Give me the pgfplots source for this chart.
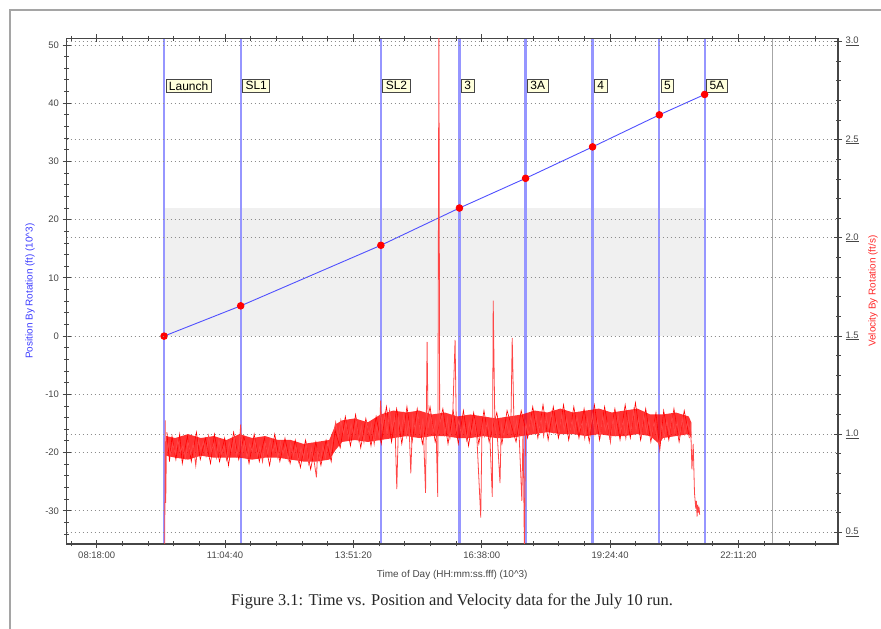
\documentclass[border=0pt]{standalone}
\usepackage{fontspec}
\setmainfont{Liberation Sans}
\newfontfamily\capfont{Liberation Serif}
\usepackage{pgfplots}
\pgfplotsset{compat=1.18}
\usepackage{pgfplotstable}

\definecolor{evblue}{RGB}{150,150,255}
\definecolor{posblue}{RGB}{80,80,255}
\definecolor{axgray}{RGB}{70,70,70}
\definecolor{gridgray}{RGB}{140,140,140}
\definecolor{shadegray}{RGB}{240,240,240}
\definecolor{boxfill}{RGB}{255,255,220}
\definecolor{framegray}{RGB}{165,165,165}
\definecolor{lblblue}{RGB}{60,60,255}
\definecolor{lblred}{RGB}{255,40,40}
\definecolor{velred}{RGB}{255,70,70}

% dense core of the velocity trace (upper edge, then lower edge back)
\pgfplotstableread{
t v
35.3 0.99
36 0.98
37 1.00
38 0.98
39 0.99
40 0.97
41 1.00
42 0.98
43 0.99
44 0.97
45 0.97
46 0.95
47 0.96
48 0.97
48.5 1.05
49 1.07
50 1.08
51 1.06
52 1.10
53 1.12
54 1.11
55 1.12
56 1.10
57 1.11
58 1.09
59 1.10
60 1.09
61 1.08
62 1.09
63 1.10
64 1.12
65 1.11
66 1.13
67 1.11
68 1.12
69 1.13
70 1.11
71 1.12
72 1.13
73 1.10
74 1.10
75 1.11
76 1.09
76.2 1.06
76.2 0.98
76 1.00
75 0.99
74 0.98
73.7 0.95
73 0.99
72 1.00
71 0.99
70 0.99
69 1.00
68 0.99
67 1.00
66 1.00
65 1.01
64 1.00
63 0.99
62 0.98
61 0.98
60 0.99
59 0.98
58 0.98
57 0.99
56 0.99
55 0.98
54 0.99
53 0.98
52 0.97
51 0.96
50 0.97
49 0.96
48.5 0.92
48 0.87
47 0.86
46 0.86
45 0.87
44 0.88
43 0.88
42 0.87
41 0.88
40 0.88
39 0.88
38 0.89
37 0.87
36 0.88
35.3 0.89
}\bandtable

% short excursions of the noise beyond the dense core
\pgfplotstableread{
t v
35.35 1.01
35.55 0.86
35.75 0.99
36.05 0.87
36.35 1.00
36.55 0.85
36.95 0.99
37.25 0.86
37.65 1.01
37.95 0.87
38.35 0.98
38.75 0.85
39.05 1.00
39.45 0.86
39.85 0.98
40.15 0.84
40.55 1.01
40.95 0.87
41.35 0.99
41.75 0.85
42.15 1.00
42.55 0.86
42.95 0.98
43.35 0.84
43.75 1.00
44.15 0.86
44.55 0.98
44.95 0.85
45.35 0.97
45.75 0.83
46.15 0.97
46.55 0.82
46.95 0.96
47.35 0.84
47.75 0.97
48.15 0.86
48.45 1.02
48.85 0.93
49.25 1.09
49.65 0.94
50.05 1.10
50.45 0.93
50.85 1.08
51.25 0.94
51.65 1.09
52.05 0.95
52.45 1.14
52.85 0.96
53.25 1.13
53.65 0.95
54.05 1.14
54.45 0.96
54.85 1.13
55.25 0.95
55.85 1.14
56.25 0.96
56.85 1.13
57.25 0.95
57.65 1.12
58.05 0.95
58.45 1.12
58.85 0.94
59.25 1.11
59.65 0.95
60.05 1.12
60.45 0.96
61.05 1.11
61.45 0.95
61.85 1.12
62.55 0.96
62.95 1.12
63.45 0.98
63.85 1.14
64.25 0.98
64.65 1.15
65.05 0.97
65.45 1.14
65.85 0.98
66.25 1.15
66.65 0.97
67.05 1.14
67.45 0.98
67.85 1.13
68.25 0.96
68.65 1.15
69.05 0.97
69.45 1.14
69.85 0.98
70.25 1.13
70.65 0.97
71.05 1.15
71.45 0.98
71.85 1.16
72.25 0.97
72.65 1.13
73.05 0.96
73.45 1.11
73.75 0.92
74.05 1.12
74.45 0.97
74.85 1.13
75.25 0.96
75.65 1.12
76.05 0.98
}\hairtable

\pgfplotstableread{
t v
35.18 0.40
35.22 1.07
35.26 0.65
35.32 0.96
35.4 0.92
35.5 0.96
35.6 0.89
35.8 0.95
36.0 0.90
36.2 0.97
36.4 0.91
36.6 0.94
36.8 0.88
37.0 0.96
37.2 0.90
37.4 0.95
37.6 0.84
37.8 0.97
38.0 0.92
38.2 0.96
38.4 0.89
38.6 0.99
38.8 0.91
39.0 0.95
39.2 0.88
39.4 0.97
39.6 0.90
39.8 0.94
40.0 0.87
40.2 0.96
40.4 0.91
40.6 0.98
40.8 0.89
41.0 0.95
41.1 1.05
41.2 0.90
41.4 0.96
41.6 0.88
41.8 0.95
42.0 0.91
42.2 0.97
42.4 0.89
42.6 0.94
42.8 0.86
43.0 0.96
43.2 0.90
43.4 0.97
43.6 0.91
43.8 0.95
44.0 0.88
44.2 0.96
44.4 0.90
44.6 0.94
44.8 0.87
45.0 0.95
45.2 0.89
45.4 0.94
45.6 0.86
45.8 0.93
46.0 0.88
46.2 0.95
46.4 0.85
46.6 0.93
46.8 0.87
47.0 0.78
47.1 0.92
47.3 0.86
47.5 0.94
47.7 0.88
47.9 0.96
48.1 0.90
48.3 0.99
48.5 1.06
48.7 0.98
48.9 1.07
49.1 1.00
49.3 1.06
49.5 0.98
49.7 1.05
49.9 0.99
50.1 1.07
50.3 0.97
50.5 1.04
50.7 0.96
50.9 1.06
51.1 1.00
51.3 1.05
51.5 0.95
51.7 1.04
51.9 0.98
52.0 1.17
52.1 1.02
52.3 1.10
52.5 1.00
52.7 1.12
52.9 1.02
53.1 1.09
53.26 0.72
53.4 1.08
53.6 1.01
53.8 1.10
54.0 0.99
54.2 1.07
54.35 0.80
54.5 1.09
54.7 1.02
54.9 1.11
55.1 1.00
55.3 1.08
55.5 0.70
55.62 1.47
55.7 1.03
55.9 1.10
56.1 1.01
56.3 1.07
56.45 0.68
56.54 3.10
56.6 1.05
56.8 1.10
57.0 1.00
57.2 1.08
57.4 0.98
57.6 1.06
57.8 1.48
57.9 1.02
58.1 1.07
58.3 0.99
58.5 1.05
58.7 0.97
58.9 1.06
59.1 1.00
59.3 1.07
59.5 0.98
59.8 0.575
59.9 1.05
60.1 0.99
60.3 1.06
60.5 1.00
60.7 0.68
60.77 1.68
60.9 1.04
61.1 0.98
61.3 0.75
61.4 1.05
61.6 0.99
61.8 1.06
62.0 1.00
62.15 1.05
62.25 1.49
62.4 1.01
62.6 1.07
62.8 0.98
63.0 0.66
63.1 1.04
63.2 0.40
63.3 1.06
63.5 1.00
63.7 1.09
63.9 1.02
64.1 1.10
64.3 1.01
64.5 1.08
64.7 0.99
64.9 1.09
65.1 1.03
65.3 1.11
65.5 1.01
65.7 1.07
65.9 1.00
66.1 1.10
66.3 1.02
66.5 1.08
66.7 0.99
66.9 1.07
67.1 1.01
67.3 1.09
67.5 1.02
67.7 1.06
67.9 0.98
68.1 1.08
68.3 1.01
68.5 1.10
68.7 1.00
68.9 1.07
69.1 0.99
69.3 1.09
69.5 1.02
69.7 1.06
69.9 0.96
70.1 1.08
70.3 1.00
70.5 1.10
70.7 1.01
70.9 1.07
71.1 0.98
71.3 1.09
71.5 1.01
71.7 1.12
71.9 1.02
72.1 1.08
72.3 0.99
72.5 1.10
72.7 1.01
72.9 1.07
73.1 0.99
73.3 1.06
73.5 1.00
73.7 0.94
73.9 1.05
74.1 0.98
74.3 1.07
74.5 1.00
74.7 1.09
74.9 1.01
75.1 1.06
75.3 0.99
75.5 1.08
75.7 1.00
75.9 1.06
76.05 1.02
76.15 1.05
76.25 0.82
76.35 0.95
76.45 0.70
76.55 0.62
76.6 0.66
76.65 0.58
76.7 0.64
76.75 0.60
76.8 0.63
76.85 0.59
}\veltable

\tikzset{
  lbl/.style={draw=axgray, fill=boxfill, line width=0.8bp,
    font=\fontsize{12}{13}\selectfont, inner xsep=3bp, inner ysep=2.2bp,
    anchor=west, xshift=1.5bp},
}
\pgfplotsset{
  common/.style={
    at={(66.5bp,85bp)}, anchor=south west, scale only axis,
    width=771.5bp, height=505.7bp,
    xmin=27.53, xmax=87.63,
    axis line style={axgray, line width=1.2bp},
    every tick/.style={axgray, line width=0.9bp},
    tick align=center,
    major tick length=8bp, minor tick length=5bp,
    tick label style={font=\fontsize{9.5}{10}\selectfont, text=axgray},
    /pgf/number format/assume math mode=true,
    ymajorgrids,
    major grid style={gridgray, line width=0.9bp, dash pattern=on 1bp off 3bp},
  },
}

\begin{document}
\begin{tikzpicture}
\path[use as bounding box] (0bp,0bp) rectangle (881bp,629bp);
\draw[framegray, line width=2bp] (10bp,0bp) -- (10bp,619bp) -- (881bp,619bp);

\begin{axis}[common,
  axis on top,
  ymin=-35.7, ymax=51.15,
  xtick={29.88,39.88,49.88,59.88,69.88,79.88},
  xticklabels={08:18:00,11:04:40,13:51:20,16:38:00,19:24:40,22:11:20},
  minor xtick={27.88,31.88,33.88,35.88,37.88,41.88,43.88,45.88,47.88,51.88,53.88,55.88,57.88,61.88,63.88,65.88,67.88,71.88,73.88,75.88,77.88,81.88,83.88,85.88},
  xtick pos=both,
  ytick={-30,-20,-10,0,10,20,30,40,50},
  minor ytick={-34,-32,-28,-26,-24,-22,-18,-16,-14,-12,-8,-6,-4,-2,2,4,6,8,12,14,16,18,22,24,26,28,32,34,36,38,42,44,46,48},
  ytick pos=left,
  xlabel={Time of Day (HH:mm:ss.fff) (10\textasciicircum 3)},
  xlabel style={font=\fontsize{10}{11}\selectfont, text=axgray, at={(axis description cs:0.5,-0.061)}, anchor=center},
  ylabel={Position By Rotation (ft) (10\textasciicircum 3)},
  ylabel style={font=\fontsize{10}{11}\selectfont, text=lblblue, at={(axis description cs:-0.0473,0.5)}, anchor=center},
]
\addplot[fill=shadegray, draw=none] coordinates {(35.13,0) (77.24,0) (77.24,22) (35.13,22)} -- cycle;
\addplot[evblue, line width=2.2bp] coordinates {(35.13,-40) (35.13,60)};
\addplot[evblue, line width=2.2bp] coordinates {(41.10,-40) (41.10,60)};
\addplot[evblue, line width=2.2bp] coordinates {(52.02,-40) (52.02,60)};
\addplot[evblue, line width=2.2bp] coordinates {(58.14,-40) (58.14,60)};
\addplot[evblue, line width=2.2bp] coordinates {(63.29,-40) (63.29,60)};
\addplot[evblue, line width=2.2bp] coordinates {(68.51,-40) (68.51,60)};
\addplot[evblue, line width=2.2bp] coordinates {(73.71,-40) (73.71,60)};
\addplot[evblue, line width=2.2bp] coordinates {(77.24,-40) (77.24,60)};
\addplot[gray!70, line width=1bp] coordinates {(82.49,-40) (82.49,60)};
\addplot[posblue, line width=0.9bp, mark=*, mark size=3.3bp, mark options={fill=red, draw=red}]
  coordinates {(35.13,0) (41.10,5.2) (52.02,15.6) (58.14,22.0) (63.29,27.1) (68.51,32.5) (73.71,38.0) (77.24,41.5)};
\node[lbl] at (axis cs:35.13,43) {Launch};
\node[lbl] at (axis cs:41.10,43) {SL1};
\node[lbl] at (axis cs:52.02,43) {SL2};
\node[lbl] at (axis cs:58.14,43) {3};
\node[lbl] at (axis cs:63.29,43) {3A};
\node[lbl] at (axis cs:68.51,43) {4};
\node[lbl] at (axis cs:73.71,43) {5};
\node[lbl] at (axis cs:77.24,43) {5A};
\end{axis}

\begin{axis}[common,
  ymin=0.44, ymax=3.017,
  axis x line=none, axis y line*=right,
  ytick={0.5,1.0,1.5,2.0,2.5,3.0},
  minor ytick={0.6,0.7,0.8,0.9,1.1,1.2,1.3,1.4,1.6,1.7,1.8,1.9,2.1,2.2,2.3,2.4,2.6,2.7,2.8,2.9},
  yticklabel={\underline{\pgfmathprintnumber[fixed,fixed zerofill,precision=1]{\tick}}},
  ylabel={Velocity By Rotation (ft/s)},
  ylabel style={font=\fontsize{10}{11}\selectfont, text=lblred, at={(axis description cs:1.0454,0.5)}, anchor=center},
]
\addplot[fill=red, fill opacity=0.8, draw=none] table[x=t, y=v] {\bandtable} -- cycle;
\addplot[red, line width=0.6bp] table[x=t, y=v] {\hairtable};
\addplot[velred, line width=0.8bp] table[x=t, y=v] {\veltable};
\end{axis}

\node[font=\capfont\fontsize{16.5}{18}\selectfont, text=black!85] at (452bp,28bp) {Figure 3.1: Time vs. Position and Velocity data for the July 10 run.};
\end{tikzpicture}
\end{document}
